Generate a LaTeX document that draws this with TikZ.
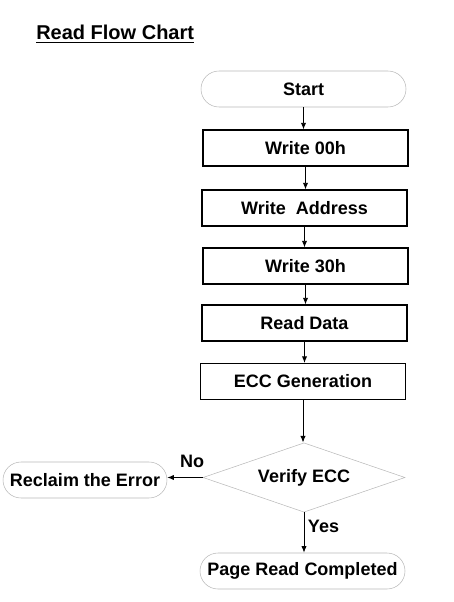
\documentclass[tikz,border=0pt]{standalone}
\usepackage{fontspec}
\setmainfont{Liberation Sans}
\usetikzlibrary{shapes.geometric}
\usetikzlibrary{arrows.meta}

\begin{document}
\begin{tikzpicture}[x=0.75pt, y=-0.75pt]
                \tikzstyle{terminal} = [draw=gray!55, rounded corners=13.5pt, minimum height=27pt, inner sep=0pt, font=\fontsize{13.5}{16}\selectfont\bfseries]
                \tikzstyle{stepbox} = [draw=black, line width=0.8pt, minimum width=153.75pt, minimum height=27pt, inner sep=0pt, font=\fontsize{13.5}{16}\selectfont\bfseries]
                \tikzstyle{decision} = [diamond, draw=gray!55, aspect=2.9, minimum width=151.5pt, minimum height=52pt, inner sep=0pt, font=\fontsize{13.5}{16}\selectfont\bfseries]
                \tikzstyle{flow} = [line width=0.7pt, -{Latex[length=5pt, width=4pt]}]
                \tikzstyle{answer} = [font=\fontsize{13.5}{16}\selectfont\bfseries, inner sep=0pt]
                \useasboundingbox (0, 0) rectangle (453, 602);
                \node[anchor=base west, inner sep=0pt, font=\fontsize{15}{18}\selectfont\bfseries] (title) at (36, 40) {\underline{Read Flow Chart}};
                \node[terminal, minimum width=153.75pt] (start) at (303.5, 89) {Start};
                \node[stepbox] (write00) at (305.5, 148) {Write 00h};
                \node[stepbox] (writeaddr) at (304.5, 208) {Write\ \ Address};
                \node[stepbox] (write30) at (305.5, 266) {Write 30h};
                \node[stepbox] (readdata) at (304.5, 323) {Read Data};
                \node[stepbox] (eccgen) at (303, 381.5) {ECC Generation};
                \node[decision] (verify) at (304, 477.5) {Verify ECC};
                \node[terminal, minimum width=123pt] (reclaim) at (85, 480) {Reclaim the Error};
                \node[terminal, minimum width=153.75pt] (done) at (302.5, 571) {Page Read Completed};
                \draw[flow] (start) -- (start |- write00.north);
                \draw[flow] (write00) -- (write00 |- writeaddr.north);
                \draw[flow] (writeaddr) -- (writeaddr |- write30.north);
                \draw[flow] (write30) -- (write30 |- readdata.north);
                \draw[flow] (readdata) -- (readdata |- eccgen.north);
                \draw[flow] (eccgen) -- (eccgen |- verify.north);
                \draw[flow] (verify.west) -- (verify.west -| reclaim.east);
                \draw[flow] (verify) -- (verify |- done.north);
                \node[answer] (no) at (192, 461) {No};
                \node[answer] (yes) at (323.5, 526) {Yes};
\end{tikzpicture}
\end{document}
